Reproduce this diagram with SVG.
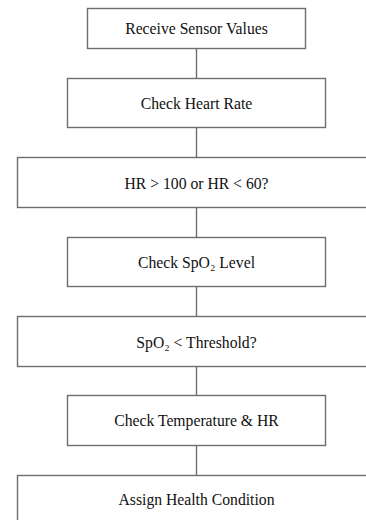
<svg xmlns="http://www.w3.org/2000/svg" width="366" height="520" viewBox="0 0 366 520">
  <style>
    .box { fill: #ffffff; stroke: #6e6e6e; stroke-width: 1.4; }
    .link { stroke: #6e6e6e; stroke-width: 1.4; fill: none; }
    .label { font-family: "Liberation Serif", "Times New Roman", serif; font-size: 15.7px; fill: #111111; text-anchor: middle; }
  </style>
  <rect width="366" height="520" fill="#ffffff"/>

  <!-- connectors between steps -->
  <g id="connectors">
    <line class="link" x1="196.5" y1="48.5" x2="196.5" y2="78.5"/>
    <line class="link" x1="196.5" y1="127.5" x2="196.5" y2="157.5"/>
    <line class="link" x1="196.5" y1="207.5" x2="196.5" y2="237.5"/>
    <line class="link" x1="196.5" y1="286.5" x2="196.5" y2="316.5"/>
    <line class="link" x1="196.5" y1="366.5" x2="196.5" y2="395.5"/>
    <line class="link" x1="196.5" y1="445.5" x2="196.5" y2="475.5"/>
  </g>

  <g id="receive-sensor-values">
    <rect class="box" x="87.5" y="8.5" width="218" height="40"/>
    <text class="label" x="196.5" y="33.5">Receive Sensor Values</text>
  </g>

  <g id="check-heart-rate">
    <rect class="box" x="67.5" y="78.5" width="258" height="49"/>
    <text class="label" x="196.5" y="108.5">Check Heart Rate</text>
  </g>

  <g id="hr-range">
    <rect class="box" x="17.5" y="157.5" width="358" height="50"/>
    <text class="label" x="196.5" y="188.5">HR &gt; 100 or HR &lt; 60?</text>
  </g>

  <g id="check-spo2">
    <rect class="box" x="67.5" y="237.5" width="258" height="49"/>
    <text class="label" x="196.5" y="267.5">Check SpO₂ Level</text>
  </g>

  <g id="spo2-threshold">
    <rect class="box" x="17.5" y="316.5" width="358" height="50"/>
    <text class="label" x="196.5" y="347.5">SpO₂ &lt; Threshold?</text>
  </g>

  <g id="check-temperature-hr">
    <rect class="box" x="67.5" y="395.5" width="258" height="50"/>
    <text class="label" x="196.5" y="426">Check Temperature &amp; HR</text>
  </g>

  <g id="assign-health-condition">
    <rect class="box" x="17.5" y="475.5" width="358" height="50"/>
    <text class="label" x="196.5" y="505">Assign Health Condition</text>
  </g>
</svg>
